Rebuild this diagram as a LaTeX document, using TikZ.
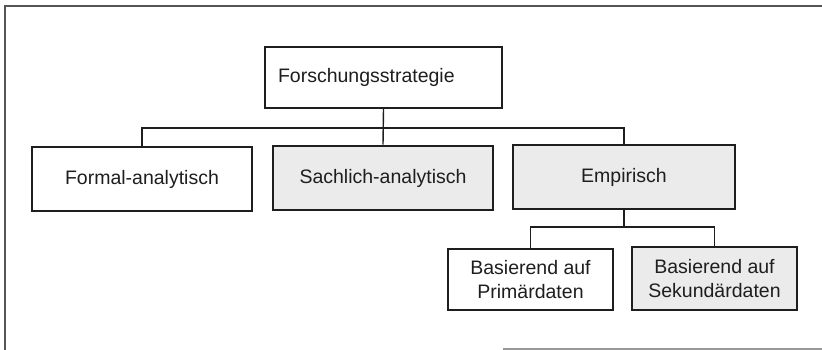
\documentclass[tikz,border=0pt]{standalone}
\usepackage{fontspec}
\setmainfont{Liberation Sans}
\definecolor{boxgray}{HTML}{EBEBEB}
\definecolor{linecol}{HTML}{1E1E1E}
\definecolor{framecol}{HTML}{555555}
\begin{document}
\begin{tikzpicture}[x=1pt,y=-1pt,
  thinbox/.style={draw=linecol, line width=1.4pt, fill=white, rectangle, inner sep=0pt,
    font=\fontsize{19.5}{23.5}\selectfont, align=center, text=linecol},
  thickbox/.style={thinbox, line width=2.6pt, fill=boxgray},
  conn/.style={draw=linecol, line width=1.4pt}]
\useasboundingbox (0,0) rectangle (822,350);
% frame
\draw[framecol, line width=1.8pt] (822,6) -- (5,6) -- (5,350);
\draw[framecol!60, line width=1.2pt] (503,349) -- (822,349);
% nodes
\node[thinbox, minimum width=237pt, minimum height=61pt, text width=211pt, align=left, inner xsep=13pt]
  (top) at (383.5,77.5) {Forschungsstrategie};
\node[thinbox, minimum width=220pt, minimum height=64pt] (form) at (142,179) {Formal-analytisch};
\node[thickbox, minimum width=220pt, minimum height=64pt] (sach) at (383,178) {Sachlich-analytisch};
\node[thickbox, minimum width=222pt, minimum height=64pt] (emp) at (624,177) {Empirisch};
\node[thinbox, minimum width=165pt, minimum height=61pt] (prim) at (530.5,279.5) {Basierend auf\\Primärdaten};
\node[thickbox, minimum width=165pt, minimum height=63pt] (sek) at (714.5,278.5) {Basierend auf\\Sekundärdaten};
% bar levels
\coordinate (bar1) at (0,128);
\coordinate (bar2) at (0,227);
% connectors
\draw[conn] (top.south) -- (sach.north);
\draw[conn] (form.north) -- (form.north |- bar1) -- (emp.north |- bar1) -- (emp.north);
\draw[conn] (emp.south) -- (emp.south |- bar2);
\draw[conn] (prim.north) -- (prim.north |- bar2) -- (sek.north |- bar2) -- (sek.north);
\end{tikzpicture}
\end{document}
